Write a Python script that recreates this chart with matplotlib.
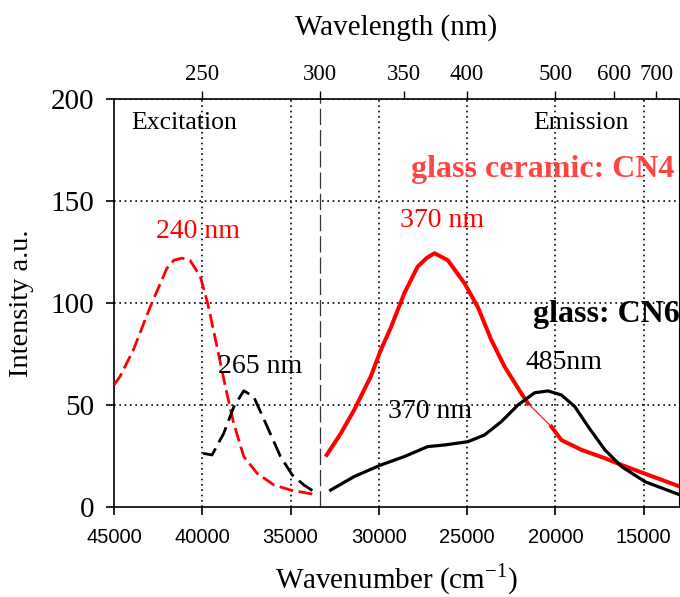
import matplotlib
matplotlib.use("Agg")
import matplotlib.pyplot as plt
import numpy as np

# ---------------- data ----------------
# Excitation, glass ceramic CN4 (red dashed)
exc_cn4_x = [45000, 44659, 43903, 42955, 42006, 41600, 41153, 40700, 40114, 39697,
             39165, 38693, 38220, 37650, 36893, 35947, 35000, 33485]
exc_cn4_y = [59.8, 64, 77, 98, 117, 121, 122, 121, 113, 100,
             78.6, 59, 41, 24.7, 16.5, 10.8, 8.3, 5.9]
# Excitation, glass CN6 (black dashed)
exc_cn6_x = [39960, 39449, 38790, 38220, 37650, 37085, 36324, 35568, 34903, 34244, 33485]
exc_cn6_y = [26.3, 25.5, 36, 49, 57, 54, 39.4, 24.7, 15.7, 10.8, 6.4]
# Emission, glass ceramic CN4 (red solid), two recorded parts
em_cn4_x1 = [32955, 32159, 31402, 30455, 29886, 29318, 28561, 27803, 27300, 26856,
             26098, 25152, 24394, 23636, 22879, 21932, 21553]
em_cn4_y1 = [25.5, 36, 47.5, 64, 77, 88, 104.7, 117.8, 122, 124.4,
             121, 109.7, 98, 82, 68.8, 55.7, 50.8]
em_cn4_x2 = [20227, 19659, 18523, 17197, 16250, 14735, 12936]
em_cn4_y2 = [39.4, 32.8, 28, 23.9, 20.6, 15.7, 10]
# Emission, glass CN6 (black solid)
em_cn6_x = [32727, 31402, 29886, 28561, 27235, 26288, 24962, 24015, 23068, 22121,
            21174, 20417, 19659, 18902, 18144, 17197, 16250, 14924, 12936]
em_cn6_y = [8.3, 14.9, 20.6, 24.7, 29.6, 30.4, 32, 35.3, 41.8, 50,
            56, 56.9, 54.9, 49.2, 39.4, 28, 19.8, 12.4, 5.9]

x_ticks = [45000, 40000, 35000, 30000, 25000, 20000, 15000]
y_ticks = [0, 50, 100, 150, 200]
wl_ticks = [250, 300, 350, 400, 500, 600, 700]
separator_x = 1e7 / 300

RED = '#ff0000'
SERIF = ['Liberation Serif', 'DejaVu Serif']
SANS = ['Liberation Sans', 'DejaVu Sans']

fig = plt.figure(figsize=(6.8, 5.97), dpi=100)
ax = fig.add_axes([114/680, 1 - 507/597, 565/680, 408/597])

ax.set_xlim(45000, 13000)
ax.set_ylim(0, 200)

# grid
for xv in x_ticks[1:]:
    ax.axvline(xv, color='black', lw=1.2, ls=(0, (1, 2.2)), zorder=1)
for yv in y_ticks[1:]:
    ax.axhline(yv, color='black', lw=1.2, ls=(0, (1, 2.2)), zorder=1)

# separator
ax.plot([separator_x, separator_x], [0, 200], color='#333333', lw=0.9,
        ls=(0, (13, 4)), zorder=2, clip_on=False)

# curves
ax.plot(exc_cn4_x, exc_cn4_y, color=RED, lw=2.0, ls=(0, (5, 2)), zorder=3)
ax.plot(exc_cn6_x, exc_cn6_y, color='black', lw=2.0, ls=(0, (6, 2.5)), zorder=3)
ax.plot(em_cn4_x1, em_cn4_y1, color=RED, lw=2.9, zorder=3)
ax.plot([em_cn4_x1[-1], em_cn4_x2[0]], [em_cn4_y1[-1], em_cn4_y2[0]], color=RED, lw=0.8, zorder=3)
ax.plot(em_cn4_x2, em_cn4_y2, color=RED, lw=2.9, zorder=3)
ax.plot(em_cn6_x, em_cn6_y, color='black', lw=2.3, zorder=4)

# spines
for s in ['left', 'bottom']:
    ax.spines[s].set_linewidth(1.2)
ax.spines['right'].set_linewidth(0.8)
ax.spines['top'].set_linewidth(1.2)
ax.spines['top'].set_linestyle((0, (1, 1)))

ax.set_xticks(x_ticks)
ax.set_xticklabels([str(v) for v in x_ticks], fontfamily=SANS, fontsize=14.5)
ax.set_yticks(y_ticks)
ax.set_yticklabels([str(v) for v in y_ticks], fontfamily=SERIF, fontsize=21)
ax.tick_params(axis='both', direction='out', length=6, width=1.2, pad=8)
ax.tick_params(axis='x', pad=9)

# top wavelength axis
sec = ax.secondary_xaxis('top', functions=(lambda x: 1e7 / np.asarray(x, float),
                                           lambda x: 1e7 / np.asarray(x, float)))
sec.set_xticks(wl_ticks)
sec.set_xticklabels([str(v) for v in wl_ticks], fontfamily=SERIF, fontsize=16.5)
sec.tick_params(direction='out', length=6, width=1.0, pad=4)
sec.spines['top'].set_visible(False)

# labels
ax.text(0.5, 1.174, 'Wavelength (nm)', transform=ax.transAxes, ha='center', va='center',
        fontfamily=SERIF, fontsize=21)
ax.text(0.5, -0.178, 'Wavenumber (cm$^{\\mathregular{-1}}$)', transform=ax.transAxes,
        ha='center', va='center', fontfamily=SERIF, fontsize=21)
ax.text(-0.163, 0.5, 'Intensity a.u.', transform=ax.transAxes, ha='center', va='center',
        rotation=90, fontfamily=SERIF, fontsize=20.5)

# annotations
def t(x, y, s, color='black', size=18, weight='normal'):
    ax.text(x, y, s, transform=ax.transAxes, ha='center', va='center', color=color,
            fontfamily=SERIF, fontsize=size, fontweight=weight, zorder=5)

t(0.124, 0.941, 'Excitation', size=18.5)
t(0.827, 0.941, 'Emission', size=18.5)
t(0.759, 0.826, 'glass ceramic: CN4', color='#ff4444', size=23, weight='bold')
t(0.148, 0.675, '240 nm', color=RED, size=20)
t(0.259, 0.344, '265 nm', size=20)
t(0.581, 0.703, '370 nm', color=RED, size=20)
t(0.872, 0.471, 'glass: CN6', size=23, weight='bold')
t(0.796, 0.353, '485nm', size=20)
t(0.560, 0.233, '370 nm', size=20)

fig.savefig('out.png', dpi=100)
